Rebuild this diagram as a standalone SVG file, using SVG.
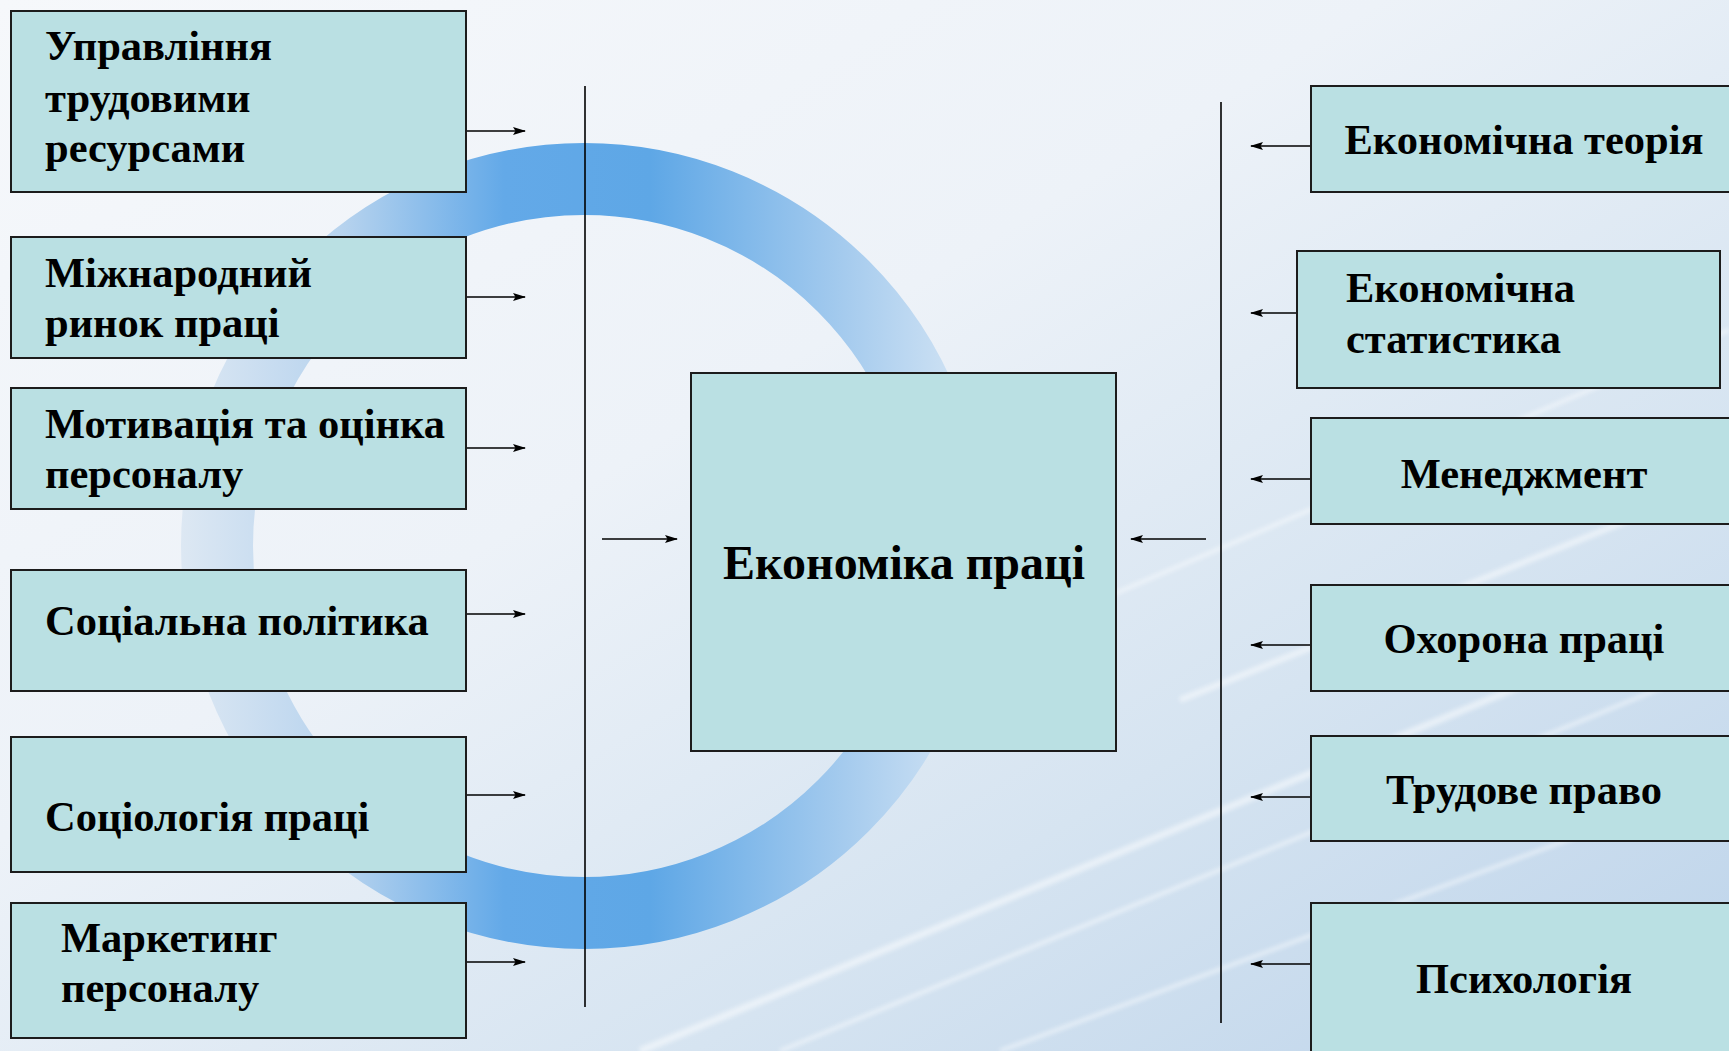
<svg xmlns="http://www.w3.org/2000/svg" width="1729" height="1051" viewBox="0 0 1729 1051">
  <defs>
    <linearGradient id="bg" x1="0" y1="0" x2="1" y2="1">
      <stop offset="0" stop-color="#f6f8fb"/>
      <stop offset="0.4" stop-color="#edf2f8"/>
      <stop offset="0.7" stop-color="#d6e4f1"/>
      <stop offset="1" stop-color="#bcd3ea"/>
    </linearGradient>
    <linearGradient id="ring" gradientUnits="userSpaceOnUse" x1="180" y1="0" x2="990" y2="0">
      <stop offset="0" stop-color="#dde8f3"/>
      <stop offset="0.2" stop-color="#b7d3ee"/>
      <stop offset="0.4" stop-color="#63a9e8"/>
      <stop offset="0.58" stop-color="#5ea7e6"/>
      <stop offset="0.82" stop-color="#a5cbee"/>
      <stop offset="1" stop-color="#dae8f5"/>
    </linearGradient>
    <filter id="soft" x="-10%" y="-10%" width="120%" height="120%">
      <feGaussianBlur stdDeviation="2"/>
    </filter>
    <marker id="ah" markerUnits="userSpaceOnUse" markerWidth="13" markerHeight="9" refX="12" refY="4.5" orient="auto">
      <path d="M0,0.5 L13,4.5 L0,8.5 L2.5,4.5 z" fill="#000"/>
    </marker>
    <style>
      .box{fill:#bae0e3;stroke:#1c1c1c;stroke-width:2}
      .t{font-family:"Liberation Serif","Times New Roman",serif;font-weight:bold;font-size:42.5px;fill:#000}
      .c{text-anchor:middle}
      .big{font-size:48px}
      .ln{stroke:#000;stroke-width:1.6;fill:none}
      .ar{stroke:#000;stroke-width:1.6;fill:none;marker-end:url(#ah)}
    </style>
  </defs>

  <rect x="0" y="0" width="1729" height="1051" fill="url(#bg)"/>
  <g opacity="0.5" stroke="#ffffff" fill="none" filter="url(#soft)">
    <path d="M640 1051 L1729 600" stroke-width="7"/>
    <path d="M780 1051 L1729 660" stroke-width="4"/>
    <path d="M1000 1051 L1729 780" stroke-width="4"/>
    <path d="M1100 600 L1729 330" stroke-width="4"/>
    <path d="M1180 700 L1729 480" stroke-width="6"/>
  </g>
  <circle cx="584" cy="546" r="367" fill="none" stroke="url(#ring)" stroke-width="72"/>

  <g id="connectors">
    <line class="ln" x1="585" y1="86" x2="585" y2="1007"/>
    <line class="ln" x1="1221" y1="102" x2="1221" y2="1023"/>
    <line class="ar" x1="466" y1="131" x2="525" y2="131"/>
    <line class="ar" x1="466" y1="297" x2="525" y2="297"/>
    <line class="ar" x1="466" y1="448" x2="525" y2="448"/>
    <line class="ar" x1="466" y1="614" x2="525" y2="614"/>
    <line class="ar" x1="466" y1="795" x2="525" y2="795"/>
    <line class="ar" x1="466" y1="962" x2="525" y2="962"/>
    <line class="ar" x1="602" y1="539" x2="677" y2="539"/>
    <line class="ar" x1="1206" y1="539" x2="1131" y2="539"/>
    <line class="ar" x1="1311" y1="146" x2="1251" y2="146"/>
    <line class="ar" x1="1311" y1="313" x2="1251" y2="313"/>
    <line class="ar" x1="1311" y1="479" x2="1251" y2="479"/>
    <line class="ar" x1="1311" y1="645" x2="1251" y2="645"/>
    <line class="ar" x1="1311" y1="797" x2="1251" y2="797"/>
    <line class="ar" x1="1311" y1="964" x2="1251" y2="964"/>
  </g>

  <g id="n-upravlinnia">
    <rect class="box" x="11" y="11" width="455" height="181"/>
    <text class="t" x="45" y="60">Управління</text>
    <text class="t" x="45" y="112">трудовими</text>
    <text class="t" x="45" y="162">ресурсами</text>
  </g>
  <g id="n-rynok">
    <rect class="box" x="11" y="237" width="455" height="121"/>
    <text class="t" x="45" y="287">Міжнародний</text>
    <text class="t" x="45" y="337">ринок праці</text>
  </g>
  <g id="n-motyvatsiia">
    <rect class="box" x="11" y="388" width="455" height="121"/>
    <text class="t" x="45" y="438">Мотивація та оцінка</text>
    <text class="t" x="45" y="488">персоналу</text>
  </g>
  <g id="n-sotsialna">
    <rect class="box" x="11" y="570" width="455" height="121"/>
    <text class="t" x="45" y="635">Соціальна політика</text>
  </g>
  <g id="n-sotsiolohiia">
    <rect class="box" x="11" y="737" width="455" height="135"/>
    <text class="t" x="45" y="831">Соціологія праці</text>
  </g>
  <g id="n-marketynh">
    <rect class="box" x="11" y="903" width="455" height="135"/>
    <text class="t" x="61" y="952">Маркетинг</text>
    <text class="t" x="61" y="1002">персоналу</text>
  </g>

  <g id="n-ekonomika-pratsi">
    <rect class="box" x="691" y="373" width="425" height="378"/>
    <text class="t big c" x="904" y="579">Економіка праці</text>
  </g>

  <g id="n-ek-teoriia">
    <rect class="box" x="1311" y="86" width="440" height="106"/>
    <text class="t c" x="1524" y="154">Економічна теорія</text>
  </g>
  <g id="n-ek-statystyka">
    <rect class="box" x="1297" y="251" width="423" height="137"/>
    <text class="t" x="1346" y="302">Економічна</text>
    <text class="t" x="1346" y="353">статистика</text>
  </g>
  <g id="n-menedzhment">
    <rect class="box" x="1311" y="418" width="440" height="106"/>
    <text class="t c" x="1524" y="488">Менеджмент</text>
  </g>
  <g id="n-okhorona">
    <rect class="box" x="1311" y="585" width="440" height="106"/>
    <text class="t c" x="1524" y="653">Охорона праці</text>
  </g>
  <g id="n-trudove-pravo">
    <rect class="box" x="1311" y="736" width="440" height="105"/>
    <text class="t c" x="1524" y="804">Трудове право</text>
  </g>
  <g id="n-psykholohiia">
    <rect class="box" x="1311" y="903" width="440" height="170"/>
    <text class="t c" x="1524" y="993">Психологія</text>
  </g>
</svg>
